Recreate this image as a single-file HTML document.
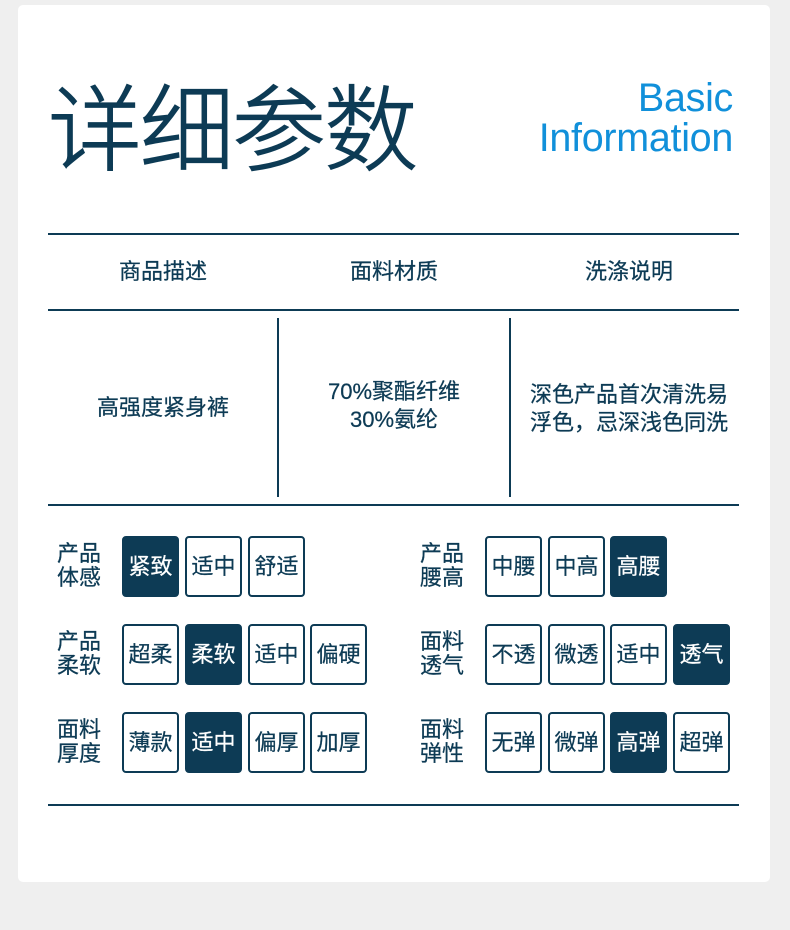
<!DOCTYPE html>
<html><head><meta charset="utf-8"><style>
*{margin:0;padding:0;box-sizing:border-box}
body{width:790px;height:930px;background:#efefef;position:relative;overflow:hidden;font-family:"Liberation Sans","Noto Sans CJK SC",sans-serif;color:#0d3b55}
.card{position:absolute;left:18px;top:5px;width:752px;height:877px;background:#fff;border-radius:5px}
.a{position:absolute}
.hl{position:absolute;left:48px;width:691px;height:2px;background:#0d3b55}
.vl{position:absolute;top:318px;width:2px;height:179px;background:#0d3b55}
.h{position:absolute;top:257px;font-size:22px;width:200px;text-align:center;line-height:30px}
.c{position:absolute;font-size:22px;text-align:center;line-height:28px;width:230px}
.lab{position:absolute;font-size:22px;line-height:24px;width:50px}
.t{position:absolute;width:57px;height:61px;border:2px solid #0d3b55;border-radius:4px;font-size:22px;line-height:57px;text-align:center;color:#0d3b55;background:#fff}
.h,.c,.lab,.t{-webkit-text-stroke:0.25px currentColor}
.t.on{background:#0d3b55;color:#fff}
</style></head><body>
<div class="card"></div>
<div class="a" style="left:48px;top:76px;font-size:94px;line-height:110px;letter-spacing:-2px;font-weight:300;-webkit-text-stroke:1.2px #0d3b55">详细参数</div>
<div class="a" style="right:57px;top:78px;font-size:39.5px;line-height:40px;text-align:right;color:#1190da;letter-spacing:-0.3px">Basic<br>Information</div>
<div class="hl" style="top:233px"></div>
<div class="h" style="left:63px">商品描述</div>
<div class="h" style="left:294px">面料材质</div>
<div class="h" style="left:529px">洗涤说明</div>
<div class="hl" style="top:309px"></div>
<div class="vl" style="left:277px"></div>
<div class="vl" style="left:509px"></div>
<div class="c" style="left:48px;top:394px">高强度紧身裤</div>
<div class="c" style="left:279px;top:378px">70%聚酯纤维<br>30%氨纶</div>
<div class="c" style="left:514px;top:381px">深色产品首次清洗易<br>浮色，忌深浅色同洗</div>
<div class="hl" style="top:504px"></div>

<div class="lab" style="left:57px;top:542px">产品<br>体感</div>
<div class="t on" style="left:122px;top:536px">紧致</div>
<div class="t" style="left:185px;top:536px">适中</div>
<div class="t" style="left:248px;top:536px">舒适</div>

<div class="lab" style="left:420px;top:542px">产品<br>腰高</div>
<div class="t" style="left:485px;top:536px">中腰</div>
<div class="t" style="left:548px;top:536px">中高</div>
<div class="t on" style="left:610px;top:536px">高腰</div>

<div class="lab" style="left:57px;top:630px">产品<br>柔软</div>
<div class="t" style="left:122px;top:624px">超柔</div>
<div class="t on" style="left:185px;top:624px">柔软</div>
<div class="t" style="left:248px;top:624px">适中</div>
<div class="t" style="left:310px;top:624px">偏硬</div>

<div class="lab" style="left:420px;top:630px">面料<br>透气</div>
<div class="t" style="left:485px;top:624px">不透</div>
<div class="t" style="left:548px;top:624px">微透</div>
<div class="t" style="left:610px;top:624px">适中</div>
<div class="t on" style="left:673px;top:624px">透气</div>

<div class="lab" style="left:57px;top:718px">面料<br>厚度</div>
<div class="t" style="left:122px;top:712px">薄款</div>
<div class="t on" style="left:185px;top:712px">适中</div>
<div class="t" style="left:248px;top:712px">偏厚</div>
<div class="t" style="left:310px;top:712px">加厚</div>

<div class="lab" style="left:420px;top:718px">面料<br>弹性</div>
<div class="t" style="left:485px;top:712px">无弹</div>
<div class="t" style="left:548px;top:712px">微弹</div>
<div class="t on" style="left:610px;top:712px">高弹</div>
<div class="t" style="left:673px;top:712px">超弹</div>

<div class="hl" style="top:804px"></div>
</body></html>
